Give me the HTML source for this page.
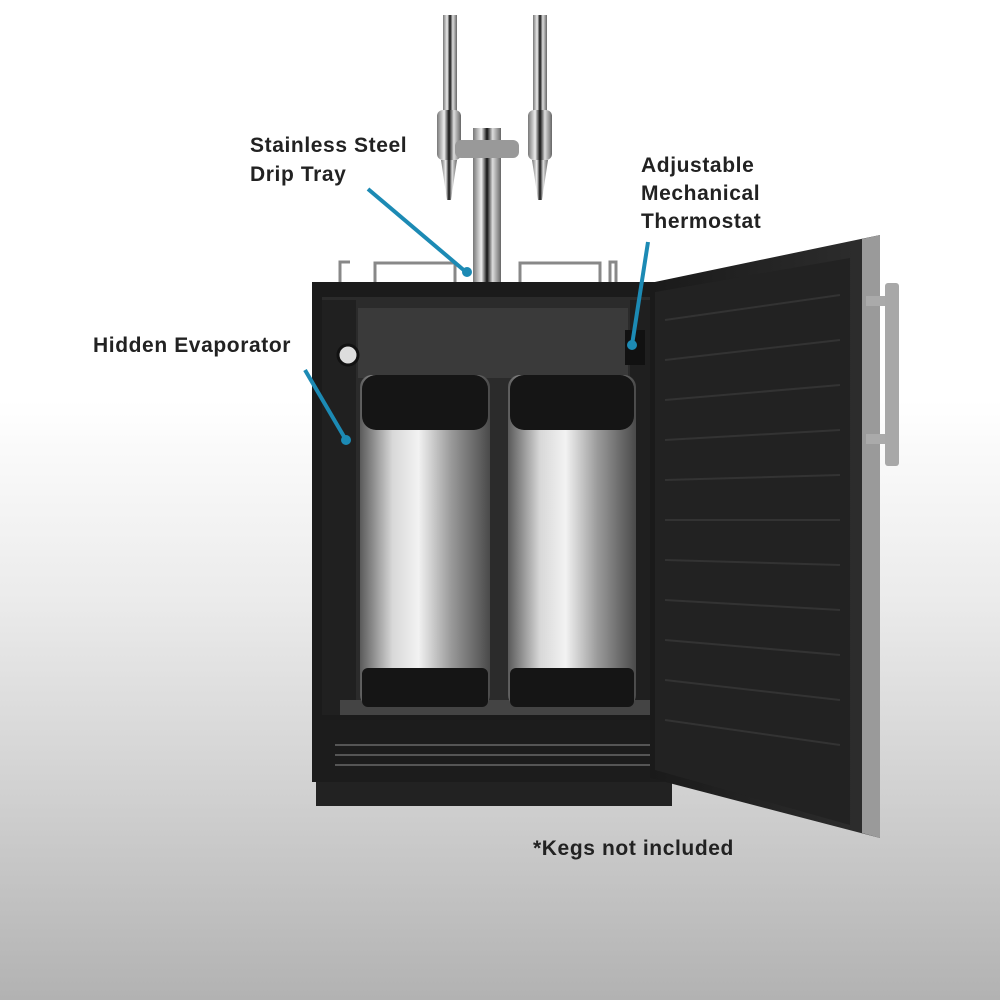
<!DOCTYPE html>
<html><head><style>
html,body{margin:0;padding:0}
body{width:1000px;height:1000px;overflow:hidden;background:linear-gradient(#fff 0%,#fff 40%,#ebebeb 60%,#d0d0d0 80%,#b2b2b2 100%)}
svg{position:absolute;left:0;top:0}
text{font-family:"Liberation Sans",sans-serif;font-weight:bold;font-size:21px;letter-spacing:0.6px;fill:#222}
</style></head><body>
<svg width="1000" height="1000" viewBox="0 0 1000 1000">
<defs>
<linearGradient id="steel" x1="0" x2="1">
<stop offset="0" stop-color="#5a5a5a"/><stop offset=".25" stop-color="#d8d8d8"/><stop offset=".45" stop-color="#f2f2f2"/><stop offset=".7" stop-color="#9a9a9a"/><stop offset="1" stop-color="#4a4a4a"/>
</linearGradient>
<linearGradient id="chrome" x1="0" x2="1">
<stop offset="0" stop-color="#777"/><stop offset=".3" stop-color="#eee"/><stop offset=".5" stop-color="#111"/><stop offset=".7" stop-color="#ddd"/><stop offset="1" stop-color="#666"/>
</linearGradient>
<linearGradient id="door" x1="0" x2="1">
<stop offset="0" stop-color="#1a1a1a"/><stop offset="1" stop-color="#2e2e2e"/>
</linearGradient>
</defs>
<rect x="443" y="15" width="14" height="100" fill="url(#chrome)"/>
<rect x="533" y="15" width="14" height="100" fill="url(#chrome)"/>
<rect x="437" y="110" width="24" height="50" rx="6" fill="url(#chrome)"/>
<rect x="528" y="110" width="24" height="50" rx="6" fill="url(#chrome)"/>
<polygon points="441,160 457,160 451,200 447,200" fill="url(#chrome)"/>
<polygon points="532,160 548,160 542,200 538,200" fill="url(#chrome)"/>
<rect x="473" y="128" width="28" height="155" fill="url(#chrome)"/>
<rect x="455" y="140" width="64" height="18" rx="6" fill="#999"/>
<g fill="none" stroke="#888" stroke-width="3">
<path d="M340 282 V262 H350 M375 282 V263 H455 V282"/>
<path d="M520 282 V263 H600 V282 M610 282 V262 H616 V282"/>
</g>
<rect x="312" y="282" width="345" height="440" fill="#1b1b1b"/>
<rect x="322" y="297" width="330" height="418" fill="#2b2b2b"/>
<rect x="358" y="308" width="270" height="70" fill="#3a3a3a"/>
<rect x="322" y="300" width="34" height="415" fill="#202020"/>
<rect x="630" y="300" width="22" height="415" fill="#1f1f1f"/>
<rect x="340" y="700" width="310" height="15" fill="#444"/>
<g>
<rect x="360" y="375" width="130" height="332" rx="12" fill="url(#steel)"/>
<rect x="362" y="375" width="126" height="55" rx="14" fill="#151515"/>
<rect x="362" y="668" width="126" height="39" rx="6" fill="#151515"/>
<rect x="508" y="375" width="128" height="332" rx="12" fill="url(#steel)"/>
<rect x="510" y="375" width="124" height="55" rx="14" fill="#151515"/>
<rect x="510" y="668" width="124" height="39" rx="6" fill="#151515"/>
<circle cx="348" cy="355" r="10" fill="#ddd" stroke="#111" stroke-width="3"/>
<rect x="625" y="330" width="20" height="35" fill="#111"/>
</g>
<rect x="312" y="720" width="360" height="62" fill="#1c1c1c"/>
<g stroke="#555" stroke-width="2">
<path d="M335 745 H650 M335 755 H650 M335 765 H650"/>
</g>
<rect x="316" y="782" width="356" height="24" fill="#222"/>
<polygon points="650,283 880,235 880,838 650,778" fill="url(#door)"/>
<polygon points="862,239 880,235 880,838 862,833" fill="#9a9a9a"/>
<polygon points="655,292 850,258 850,825 655,770" fill="#222"/>
<g stroke="#333" stroke-width="2">
<path d="M665 320 L840 295 M665 360 L840 340 M665 400 L840 385 M665 440 L840 430 M665 480 L840 475 M665 520 L840 520 M665 560 L840 565 M665 600 L840 610 M665 640 L840 655 M665 680 L840 700 M665 720 L840 745"/>
</g>
<rect x="866" y="296" width="20" height="10" fill="#aaa"/>
<rect x="866" y="434" width="20" height="10" fill="#aaa"/>
<rect x="885" y="283" width="14" height="183" rx="3" fill="#a8a8a8"/>
<g stroke="#1c8ab4" stroke-width="4" fill="#1c8ab4">
<line x1="368" y1="189" x2="466" y2="272"/><circle cx="467" cy="272" r="5" stroke="none"/>
<line x1="648" y1="242" x2="632" y2="345"/><circle cx="632" cy="345" r="5" stroke="none"/>
<line x1="305" y1="370" x2="346" y2="440"/><circle cx="346" cy="440" r="5" stroke="none"/>
</g>
<text x="250" y="152">Stainless Steel</text>
<text x="250" y="181">Drip Tray</text>
<text x="641" y="172">Adjustable</text>
<text x="641" y="200">Mechanical</text>
<text x="641" y="228">Thermostat</text>
<text x="93" y="352">Hidden Evaporator</text>
<text x="533" y="855">*Kegs not included</text>
</svg>
</body></html>
